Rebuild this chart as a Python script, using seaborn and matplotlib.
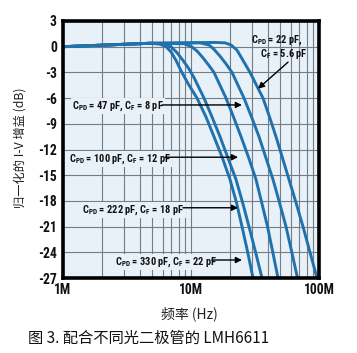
import numpy as np
import pandas as pd
import matplotlib
matplotlib.use("Agg")
import matplotlib.pyplot as plt
import seaborn as sns
from matplotlib import font_manager
from matplotlib.ticker import FixedLocator, LogLocator, NullFormatter

sns.set_theme(style="white")

_installed = {f.name for f in font_manager.fontManager.ttflist}
NARROW = "Liberation Sans"
for cand in ["Liberation Sans Narrow", "DejaVu Sans Condensed", "Roboto Condensed",
             "Open Sans Condensed", "Noto Sans Condensed", "Arial Narrow"]:
    if cand in _installed:
        NARROW = cand
        break

plt.rcParams['font.family'] = [NARROW, 'Noto Sans CJK SC', 'DejaVu Sans']
plt.rcParams['mathtext.fontset'] = 'custom'
plt.rcParams['mathtext.rm'] = NARROW + ':bold'
plt.rcParams['mathtext.it'] = NARROW + ':bold'
plt.rcParams['mathtext.bf'] = NARROW + ':bold'
plt.rcParams['mathtext.sf'] = NARROW + ':bold'

# ---- data (frequency in MHz, gain in dB) ----
series_names = ["330pF", "222pF", "100pF", "47pF", "22pF"]

f_330 = [1.0, 4.78, 5.72, 6.38, 6.98, 7.64, 8.35, 9.48, 11.14, 13.10, 15.12, 17.62, 20.17, 22.67, 25.03, 27.73, 30.51]
g_330 = [0.0, 0.4, 0.3, 0.0, -0.6, -1.6, -2.8, -4.3, -6.0, -8.2, -10.5, -13.0, -15.5, -18.2, -21.0, -24.0, -27.0]

f_222 = [1.0, 4.78, 6.04, 6.98, 7.78, 8.66, 9.65, 10.55, 12.64, 14.59, 16.85, 19.45, 22.47, 25.30, 28.39, 31.97, 35.86]
g_222 = [0.0, 0.4, 0.35, 0.0, -0.7, -1.6, -2.6, -3.6, -6.0, -8.2, -10.5, -13.0, -15.5, -18.2, -21.0, -24.0, -27.0]

f_100 = [1.0, 4.78, 8.82, 10.0, 11.14, 12.41, 13.82, 15.12, 16.85, 18.77, 21.48, 24.59, 28.29, 32.20, 35.68, 39.60, 43.56, 47.83]
g_100 = [0.0, 0.4, 0.35, 0.05, -0.5, -1.3, -2.2, -3.0, -4.5, -6.0, -8.2, -10.5, -13.0, -15.5, -18.2, -21.0, -24.0, -27.0]

f_47 = [1.0, 4.78, 11.76, 13.82, 15.12, 16.85, 18.77, 20.91, 23.29, 25.95, 29.70, 33.98, 38.54, 43.71, 49.14, 55.23, 61.32, 67.92]
g_47 = [0.0, 0.4, 0.45, 0.2, -0.3, -1.1, -2.0, -3.0, -4.5, -6.0, -8.2, -10.5, -13.0, -15.5, -18.2, -21.0, -24.0, -27.0]

f_22 = [1.0, 4.78, 15.40, 18.44, 20.54, 22.88, 24.59, 26.66, 28.91, 32.49, 36.52, 41.06, 46.13, 51.87, 58.29, 66.12, 74.99, 85.06, 96.47]
g_22 = [0.0, 0.4, 0.5, 0.45, 0.2, -0.4, -1.2, -2.1, -3.0, -4.5, -6.0, -8.2, -10.5, -13.0, -15.5, -18.2, -21.0, -24.0, -27.0]

y_ticks = [3, 0, -3, -6, -9, -12, -15, -18, -21, -24, -27]
x_ticks = [1, 10, 100]
x_tick_labels = ["1M", "10M", "100M"]

annot_texts = [
    r"C$_{\mathrm{PD}}$ = 47 pF, C$_{\mathrm{F}}$ = 8 pF",
    r"C$_{\mathrm{PD}}$ = 100 pF, C$_{\mathrm{F}}$ = 12 pF",
    r"C$_{\mathrm{PD}}$ = 222 pF, C$_{\mathrm{F}}$ = 18 pF",
    r"C$_{\mathrm{PD}}$ = 330 pF, C$_{\mathrm{F}}$ = 22 pF",
]
top_label_1 = r"C$_{\mathrm{PD}}$ = 22 pF,"
top_label_2 = r"C$_{\mathrm{F}}$ = 5.6 pF"

ylabel = "归一化的 I-V 增益 (dB)"
xlabel = "频率 (Hz)"
caption = "图 3. 配合不同光二极管的 LMH6611"

frames = []
for name, f, g in [("330pF", f_330, g_330), ("222pF", f_222, g_222), ("100pF", f_100, g_100),
                   ("47pF", f_47, g_47), ("22pF", f_22, g_22)]:
    frames.append(pd.DataFrame({"f": f, "g": g, "s": name}))
df = pd.concat(frames, ignore_index=True)

W, H = 357, 353
fig = plt.figure(figsize=(W / 100, H / 100), dpi=100)
fig.patch.set_facecolor("white")
ax = fig.add_axes([63 / W, 1 - 278 / H, (319 - 63) / W, (278 - 21) / H])
bg = "#e8f0f8"
ax.set_facecolor(bg)

line_col = "#1f72ad"
sns.lineplot(data=df, x="f", y="g", hue="s", hue_order=series_names,
             palette=[line_col] * 5, legend=False, linewidth=2.1, ax=ax,
             sort=False, estimator=None, zorder=3)

ax.set_xscale("log")
ax.set_xlim(1, 100)
ax.set_ylim(-27, 3)

ax.xaxis.set_major_locator(FixedLocator(x_ticks))
ax.set_xticklabels(x_tick_labels)
ax.xaxis.set_minor_locator(LogLocator(base=10, subs=np.arange(2, 10)))
ax.xaxis.set_minor_formatter(NullFormatter())
ax.yaxis.set_major_locator(FixedLocator(y_ticks))
ax.set_yticklabels([str(v) for v in y_ticks])

ax.grid(True, which="major", color="#737d88", linewidth=0.8, zorder=1)
ax.grid(True, which="minor", axis="x", color="#737d88", linewidth=0.8, zorder=1)
ax.set_axisbelow(True)

for sp in ax.spines.values():
    sp.set_color("black")
    sp.set_linewidth(2.6)
    sp.set_zorder(5)

ax.tick_params(axis="both", which="both", length=0)
ax.tick_params(axis="y", pad=4.5)
ax.tick_params(axis="x", pad=3.5)
for lab in ax.get_xticklabels() + ax.get_yticklabels():
    lab.set_fontfamily(NARROW)
    lab.set_fontweight("bold")
    lab.set_fontsize(9.8 if NARROW != "Liberation Sans" else 8.5)
    lab.set_color("#111111")

ax.set_xlabel("")
ax.set_ylabel("")

fig.text(20 / W, 1 - 148 / H, ylabel, rotation=90, ha="center", va="center",
         fontsize=8.8, family=["Noto Sans CJK SC", "DejaVu Sans"], color="#222222")
fig.text(189 / W, 1 - 314 / H, xlabel, ha="center", va="center",
         fontsize=10, family=["Noto Sans CJK SC", "DejaVu Sans"], color="#222222")
fig.text(28 / W, 1 - 338 / H, caption, ha="left", va="center",
         fontsize=11, family=["Noto Sans CJK SC", "DejaVu Sans"], color="#111111")

# annotations with arrows (positions in data coordinates)
ann_fs = 7.5
bbox = dict(boxstyle="square,pad=0.12", fc=bg, ec="none")
ann = [
    # text, text position, arrow tip, arrow tail
    (annot_texts[0], (1.176, -6.9), (25.0, -6.8), (5.94, -6.8)),
    (annot_texts[1], (1.114, -13.1), (23.3, -12.9), (6.27, -12.9)),
    (annot_texts[2], (1.41, -19.1), (23.3, -18.8), (8.66, -18.8)),
    (annot_texts[3], (2.55, -25.1), (25.0, -24.9), (14.6, -24.9)),
]
for txt, tpos, tip, tail in ann:
    ax.text(tpos[0], tpos[1], txt, ha="left", va="center", fontsize=ann_fs,
            fontweight="bold", family=NARROW, color="#111111",
            bbox=bbox, zorder=4)
    ax.annotate("", xy=tip, xytext=tail,
                arrowprops=dict(arrowstyle="-|>", color="black", lw=1.0,
                                mutation_scale=9, shrinkA=0, shrinkB=0), zorder=4)

ax.text(75.0, 0.75, top_label_1, ha="right", va="center", fontsize=ann_fs,
        fontweight="bold", family=NARROW, color="#111111", zorder=4)
ax.text(80.6, -0.85, top_label_2, ha="right", va="center", fontsize=ann_fs,
        fontweight="bold", family=NARROW, color="#111111", zorder=4)
ax.annotate("", xy=(33.4, -4.9), xytext=(57.3, -1.8),
            arrowprops=dict(arrowstyle="-|>", color="black", lw=1.0,
                            mutation_scale=9, shrinkA=0, shrinkB=0), zorder=4)

fig.savefig("out.png", dpi=100, facecolor="white")
